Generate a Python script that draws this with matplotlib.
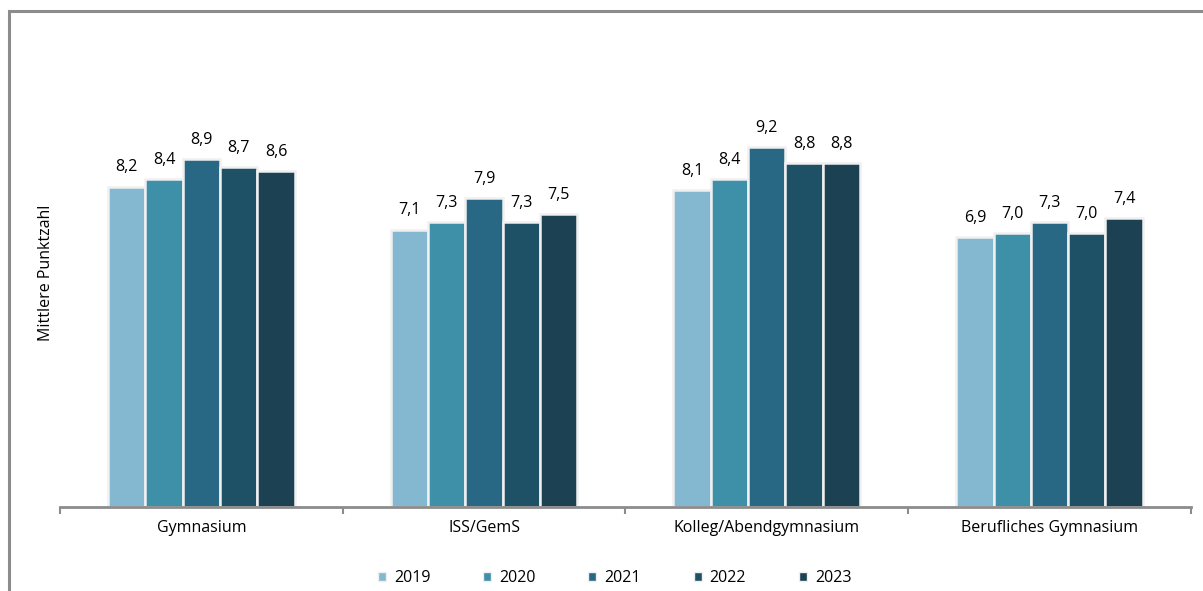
import numpy as np
import matplotlib.pyplot as plt
from matplotlib.patches import Rectangle, Patch

plt.rcParams['font.family'] = ['Open Sans', 'DejaVu Sans']

# Daten
kategorien = ["Gymnasium", "ISS/GemS", "Kolleg/Abendgymnasium", "Berufliches Gymnasium"]
jahre = ["2019", "2020", "2021", "2022", "2023"]
werte_2019 = [8.2, 7.1, 8.1, 6.9]
werte_2020 = [8.4, 7.3, 8.4, 7.0]
werte_2021 = [8.9, 7.9, 9.2, 7.3]
werte_2022 = [8.7, 7.3, 8.8, 7.0]
werte_2023 = [8.6, 7.5, 8.8, 7.4]
farben = ["#84B8D0", "#3E8FA8", "#286885", "#1F5166", "#1B4153"]

serien = [werte_2019, werte_2020, werte_2021, werte_2022, werte_2023]

fig = plt.figure(figsize=(12.03, 5.91), dpi=100)
ax = fig.add_axes([0.0499, 0.1421, 0.940, 0.7936])

# Rahmen um die Grafik (rechts/unten abgeschnitten)
fig.patches.append(Rectangle((9 / 1203, -0.1), 1.2, 1 - 11 / 591 + 0.1,
                             transform=fig.transFigure, fill=False,
                             edgecolor="#8C8C8C", linewidth=2.2, zorder=0))

x = np.arange(len(kategorien))
breite = 0.132
for i, (werte, farbe) in enumerate(zip(serien, farben)):
    pos = x + (i - 2) * breite
    bars = ax.bar(pos, werte, width=breite, color=farbe, edgecolor="#F0F0F0",
                  linewidth=1.8, label=jahre[i], zorder=2)
    for b, v in zip(bars, werte):
        ax.annotate(f"{v:.1f}".replace(".", ","),
                    (b.get_x() + b.get_width() / 2, v),
                    xytext=(0, 8), textcoords="offset points",
                    ha="center", va="bottom", fontsize=11.5)

ax.set_xlim(-0.5, len(kategorien) - 0.5)
ax.set_ylim(0, 12)
ax.set_xticks(x)
ax.set_xticklabels(kategorien, fontsize=11.5)
ax.tick_params(axis="x", which="major", length=0, pad=9)
ax.set_xticks(np.arange(-0.5, len(kategorien)), minor=True)
ax.tick_params(axis="x", which="minor", length=5, width=1.5, color="#8C8C8C")
ax.set_yticks([])
ax.set_ylabel("Mittlere Punktzahl", fontsize=11.5, labelpad=4)

for s in ["top", "right", "left"]:
    ax.spines[s].set_visible(False)
ax.spines["bottom"].set_color("#8C8C8C")
ax.spines["bottom"].set_linewidth(2)

handles = [Patch(facecolor=f, edgecolor="#EEEEEE", linewidth=1) for f in farben]
fig.legend(handles, jahre, loc="center", bbox_to_anchor=(0.511, 0.022),
           ncol=5, frameon=False, fontsize=11.5, handlelength=0.5,
           handleheight=0.5, handletextpad=0.5, columnspacing=3.3)

fig.savefig("out.png", dpi=100)
